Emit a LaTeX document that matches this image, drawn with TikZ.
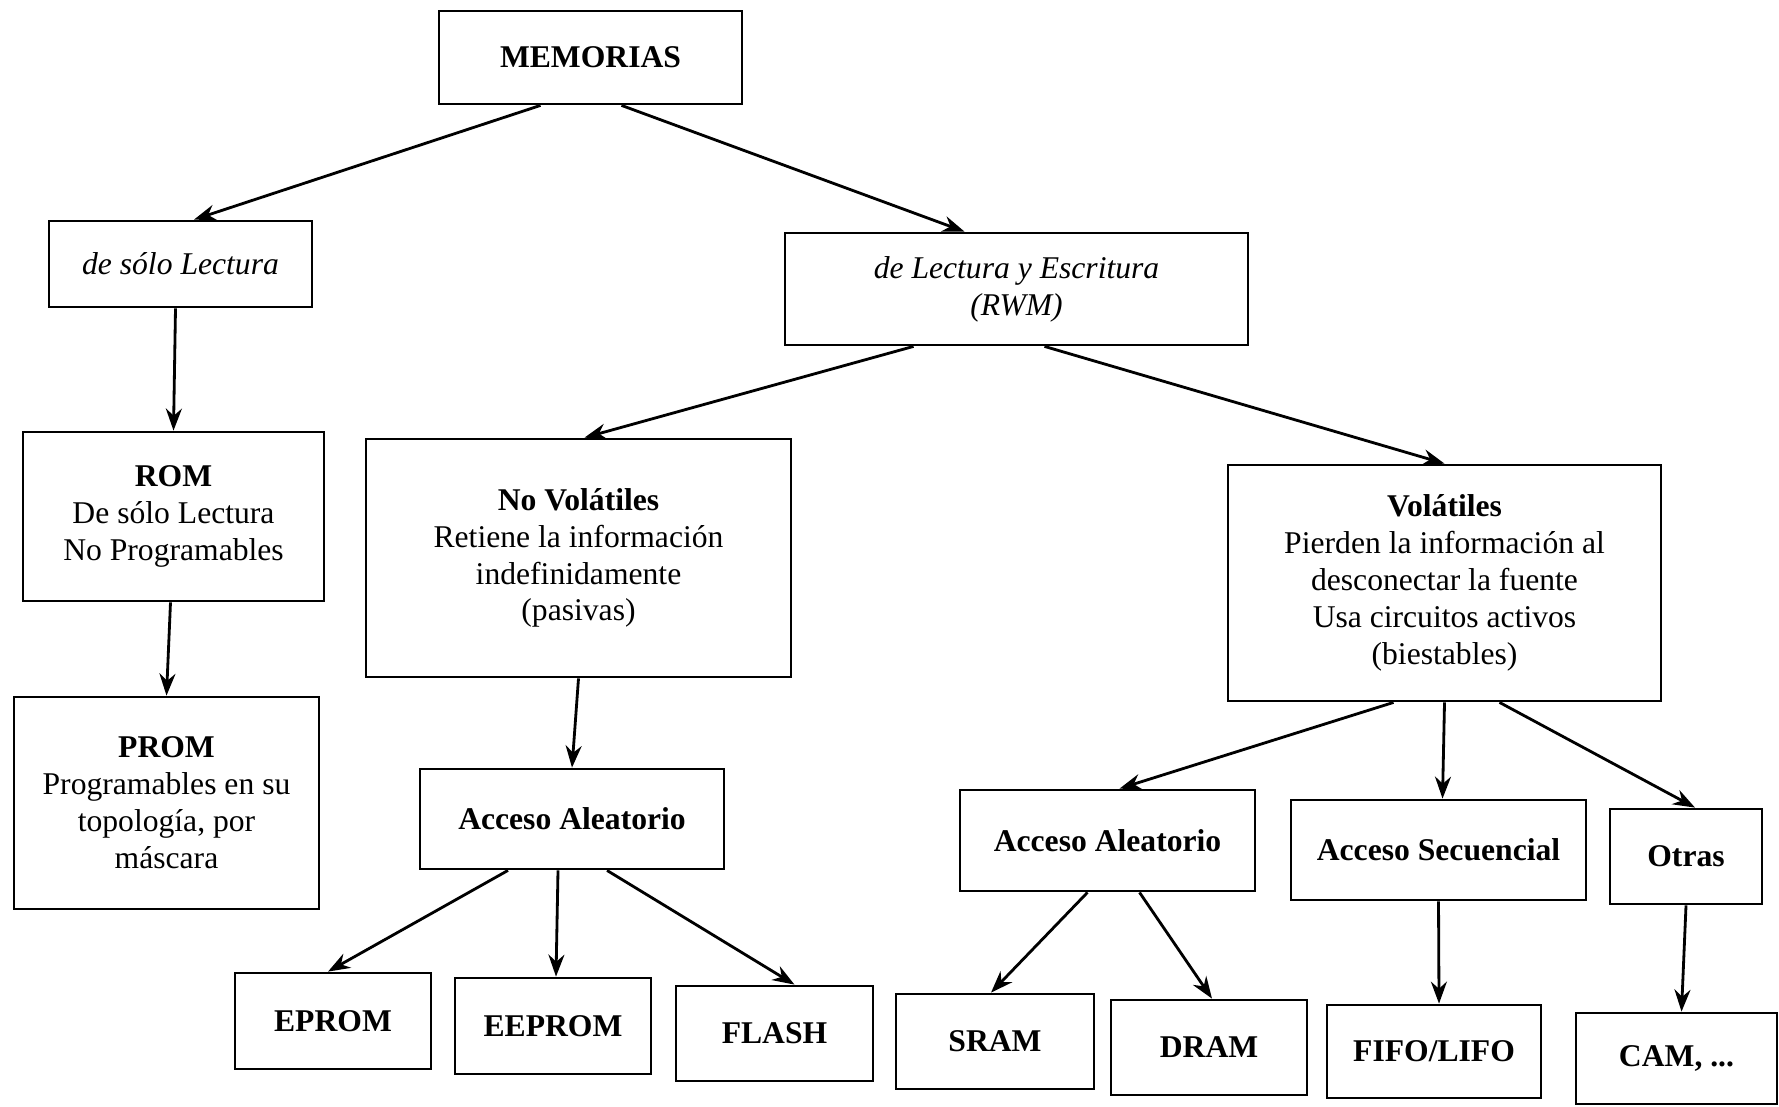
\documentclass[tikz,border=0pt]{standalone}
\usepackage{fontspec}
\setmainfont{Liberation Serif}
\usetikzlibrary{arrows.meta}
\pgfdeclarelayer{edgelayer}
\pgfdeclarelayer{nodelayer}
\pgfsetlayers{edgelayer,nodelayer,main}
\tikzset{font=\fontsize{9}{10.5}\selectfont}
\tikzstyle{box}=[draw,rectangle,align=center,line width=0.8pt,inner sep=2pt,fill=white]
\tikzstyle{arr}=[line width=0.8pt,-{Stealth[length=2.2mm,width=1.6mm]}]

\begin{document}
\begin{tikzpicture}
	\useasboundingbox (0,0) rectangle (17.79,-11.06);
	\begin{pgfonlayer}{nodelayer}
		\node [box,minimum width=3.03cm,minimum height=0.93cm] (0) at (5.905,-0.575) {\textbf{MEMORIAS}};
		\node [box,minimum width=2.63cm,minimum height=0.86cm] (1) at (1.805,-2.64) {\textit{de sólo Lectura}};
		\node [box,minimum width=4.63cm,minimum height=1.12cm] (2) at (10.165,-2.89) {\textit{de Lectura y Escritura}\\\textit{(RWM)}};
		\node [box,minimum width=3.01cm,minimum height=1.69cm] (3) at (1.735,-5.165) {\textbf{ROM}\\De sólo Lectura\\No Programables};
		\node [box,minimum width=3.05cm,minimum height=2.12cm] (4) at (1.665,-8.03) {\textbf{PROM}\\Programables en su\\topología, por\\máscara};
		\node [box,minimum width=4.25cm,minimum height=2.38cm] (5) at (5.785,-5.58) {\textbf{No Volátiles}\\Retiene la información\\indefinidamente\\(pasivas)};
		\node [box,minimum width=4.33cm,minimum height=2.36cm] (6) at (14.445,-5.83) {\textbf{Volátiles}\\Pierden la información al\\desconectar la fuente\\Usa circuitos activos\\(biestables)};
		\node [box,minimum width=3.04cm,minimum height=1.00cm] (7) at (5.72,-8.19) {\textbf{Acceso Aleatorio}};
		\node [box,minimum width=1.96cm,minimum height=0.96cm] (8) at (3.33,-10.21) {\textbf{EPROM}};
		\node [box,minimum width=1.96cm,minimum height=0.96cm] (9) at (5.53,-10.26) {\textbf{EEPROM}};
		\node [box,minimum width=1.97cm,minimum height=0.95cm] (10) at (7.745,-10.335) {\textbf{FLASH}};
		\node [box,minimum width=2.95cm,minimum height=1.01cm] (11) at (11.075,-8.405) {\textbf{Acceso Aleatorio}};
		\node [box,minimum width=2.95cm,minimum height=1.00cm] (12) at (14.385,-8.5) {\textbf{Acceso Secuencial}};
		\node [box,minimum width=1.52cm,minimum height=0.95cm] (13) at (16.86,-8.565) {\textbf{Otras}};
		\node [box,minimum width=1.98cm,minimum height=0.95cm] (14) at (9.95,-10.415) {\textbf{SRAM}};
		\node [box,minimum width=1.96cm,minimum height=0.95cm] (15) at (12.09,-10.475) {\textbf{DRAM}};
		\node [box,minimum width=2.14cm,minimum height=0.93cm] (16) at (14.34,-10.515) {\textbf{FIFO/LIFO}};
		\node [box,minimum width=2.01cm,minimum height=0.91cm] (17) at (16.765,-10.585) {\textbf{CAM, ...}};
	\end{pgfonlayer}
	\begin{pgfonlayer}{edgelayer}
		\draw [arr] ([xshift=-0.50cm]0.south) to ([xshift=0.135cm]1.north);
		\draw [arr] ([xshift=0.31cm]0.south) to ([xshift=-0.52cm]2.north);
		\draw [arr] ([xshift=-1.03cm]2.south) to ([xshift=0.06cm]5.north);
		\draw [arr] ([xshift=0.28cm]2.south) to (6.north);
		\draw [arr] ([xshift=-0.05cm]1.south) to (3.north);
		\draw [arr] ([xshift=-0.03cm]3.south) to (4.north);
		\draw [arr] (5.south) to (7.north);
		\draw [arr] ([xshift=-0.64cm]7.south) to ([xshift=-0.05cm]8.north);
		\draw [arr] ([xshift=-0.14cm]7.south) to ([xshift=0.03cm]9.north);
		\draw [arr] ([xshift=0.35cm]7.south) to ([xshift=0.2cm]10.north);
		\draw [arr] ([xshift=-0.51cm]6.south) to ([xshift=0.12cm]11.north);
		\draw [arr] (6.south) to ([xshift=0.04cm]12.north);
		\draw [arr] ([xshift=0.55cm]6.south) to ([xshift=0.09cm]13.north);
		\draw [arr] ([xshift=-0.2cm]11.south) to ([xshift=-0.04cm]14.north);
		\draw [arr] ([xshift=0.32cm]11.south) to ([xshift=0.03cm]15.north);
		\draw [arr] (12.south) to ([xshift=0.05cm]16.north);
		\draw [arr] (13.south) to ([xshift=0.05cm]17.north);
	\end{pgfonlayer}
\end{tikzpicture}
\end{document}
